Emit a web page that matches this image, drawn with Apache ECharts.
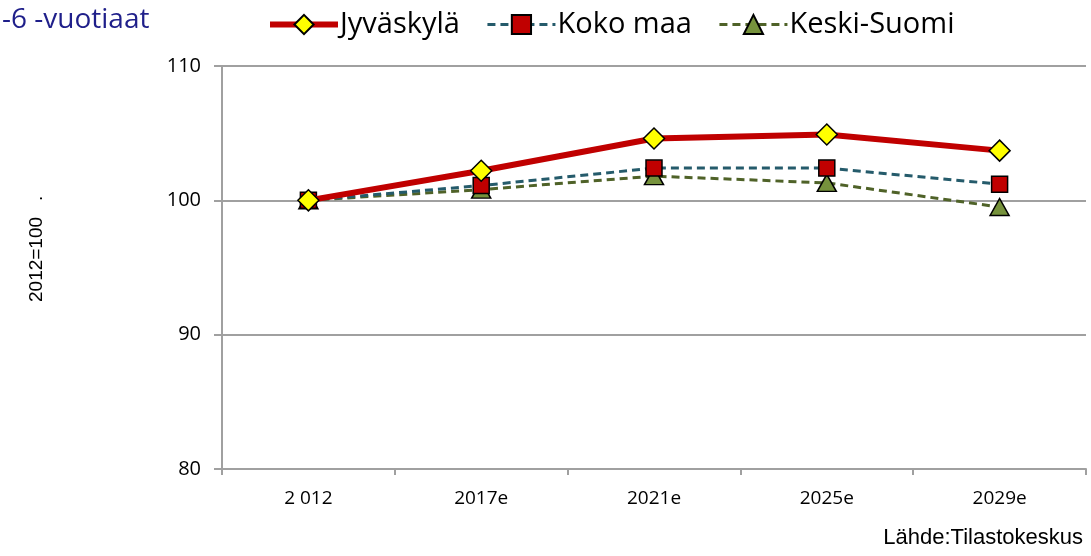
<!DOCTYPE html>
<html>
<head>
<meta charset="utf-8">
<script src="https://cdn.jsdelivr.net/npm/echarts@6/dist/echarts.min.js"></script>
<style>
  html, body { margin: 0; padding: 0; background: #fff; }
  #chart { width: 1091px; height: 556px; }
</style>
</head>
<body>
<div id="chart"></div>
<script>
// luokat ja sarjat
const categories = ['2 012', '2017e', '2021e', '2025e', '2029e'];
const jyvaskyla = [100, 102.2, 104.6, 104.9, 103.7];
const kokoMaa = [100, 101.1, 102.4, 102.4, 101.2];
const keskiSuomi = [100, 100.8, 101.8, 101.3, 99.5];
const yTicks = { min: 80, max: 110, interval: 10 };

const myChart = echarts.init(document.getElementById('chart'));
const gray = '#a0a0a0';
const font = '"Open Sans", "Noto Sans", sans-serif';
const arial = '"Liberation Sans", Arial, sans-serif';

const option = {
  animation: false,
  title: {
    text: '-6 -vuotiaat',
    left: -3,
    top: 1,
    textStyle: { color: '#1f1f8a', fontSize: 28, fontWeight: 'normal', fontFamily: font },
  },
  legend: {
    top: 5,
    left: 262,
    itemWidth: 68,
    itemHeight: 24,
    itemGap: 26,
    textStyle: { fontSize: 29, color: '#000', fontFamily: font, padding: [0, 0, 0, -3] },
    data: [
      { name: 'Jyväskylä', lineStyle: { width: 6 } },
      { name: 'Koko maa', lineStyle: { width: 3 } },
      { name: 'Keski-Suomi', lineStyle: { width: 3 } },
    ],
  },
  grid: {
    left: 222, // vasen
    right: 5,
    top: 66,
    bottom: 87,
    containLabel: false,
  },
  graphic: [
    {
      type: 'text',
      x: 37,
      y: 302,
      rotation: Math.PI / 2,
      style: {
        text: '2012=100   .',
        fontSize: 19,
        fill: '#000',
        fontFamily: arial,
        align: 'left',
        verticalAlign: 'middle',
      },
    },
    {
      type: 'text',
      right: 8,
      top: 527,
      style: { text: 'Lähde:Tilastokeskus', fontSize: 22, fill: '#000', fontFamily: arial },
    },
  ],
  xAxis: {
    type: 'category',
    data: categories,
    boundaryGap: true,
    axisLine: { lineStyle: { color: gray, width: 2 } },
    axisTick: { show: true, length: 6, lineStyle: { color: gray, width: 2 } },
    axisLabel: { color: '#000', fontSize: 19, margin: 20, fontFamily: font },
  },
  yAxis: {
    type: 'value',
    min: yTicks.min,
    max: yTicks.max,
    interval: yTicks.interval,
    axisLine: { show: true, lineStyle: { color: gray, width: 2 } },
    axisTick: { show: true, length: 8, lineStyle: { color: gray, width: 2 } },
    axisLabel: { color: '#000', fontSize: 20, margin: 21, fontFamily: font },
    splitLine: { show: true, lineStyle: { color: gray, width: 2 } },
  },
  series: [
    {
      name: 'Keski-Suomi',
      type: 'line',
      data: keskiSuomi,
      z: 2,
      symbol: 'triangle',
      symbolSize: [19, 17],
      itemStyle: { color: '#76923c', borderColor: '#000', borderWidth: 1.5 },
      lineStyle: { color: '#4f6228', width: 3, type: [8, 5] },
    },
    {
      name: 'Koko maa',
      type: 'line',
      data: kokoMaa,
      z: 3,
      symbol: 'rect',
      symbolSize: 16,
      itemStyle: { color: '#c00000', borderColor: '#000', borderWidth: 1.5 },
      lineStyle: { color: '#255b6b', width: 3, type: [8, 5] },
    },
    {
      name: 'Jyväskylä',
      type: 'line',
      data: jyvaskyla,
      z: 4,
      symbol: 'diamond',
      symbolSize: 21,
      itemStyle: { color: '#ffff00', borderColor: '#000', borderWidth: 1.5 },
      lineStyle: { color: '#c00000', width: 6 },
    },
  ],
};
myChart.setOption(option);
</script>
</body>
</html>
